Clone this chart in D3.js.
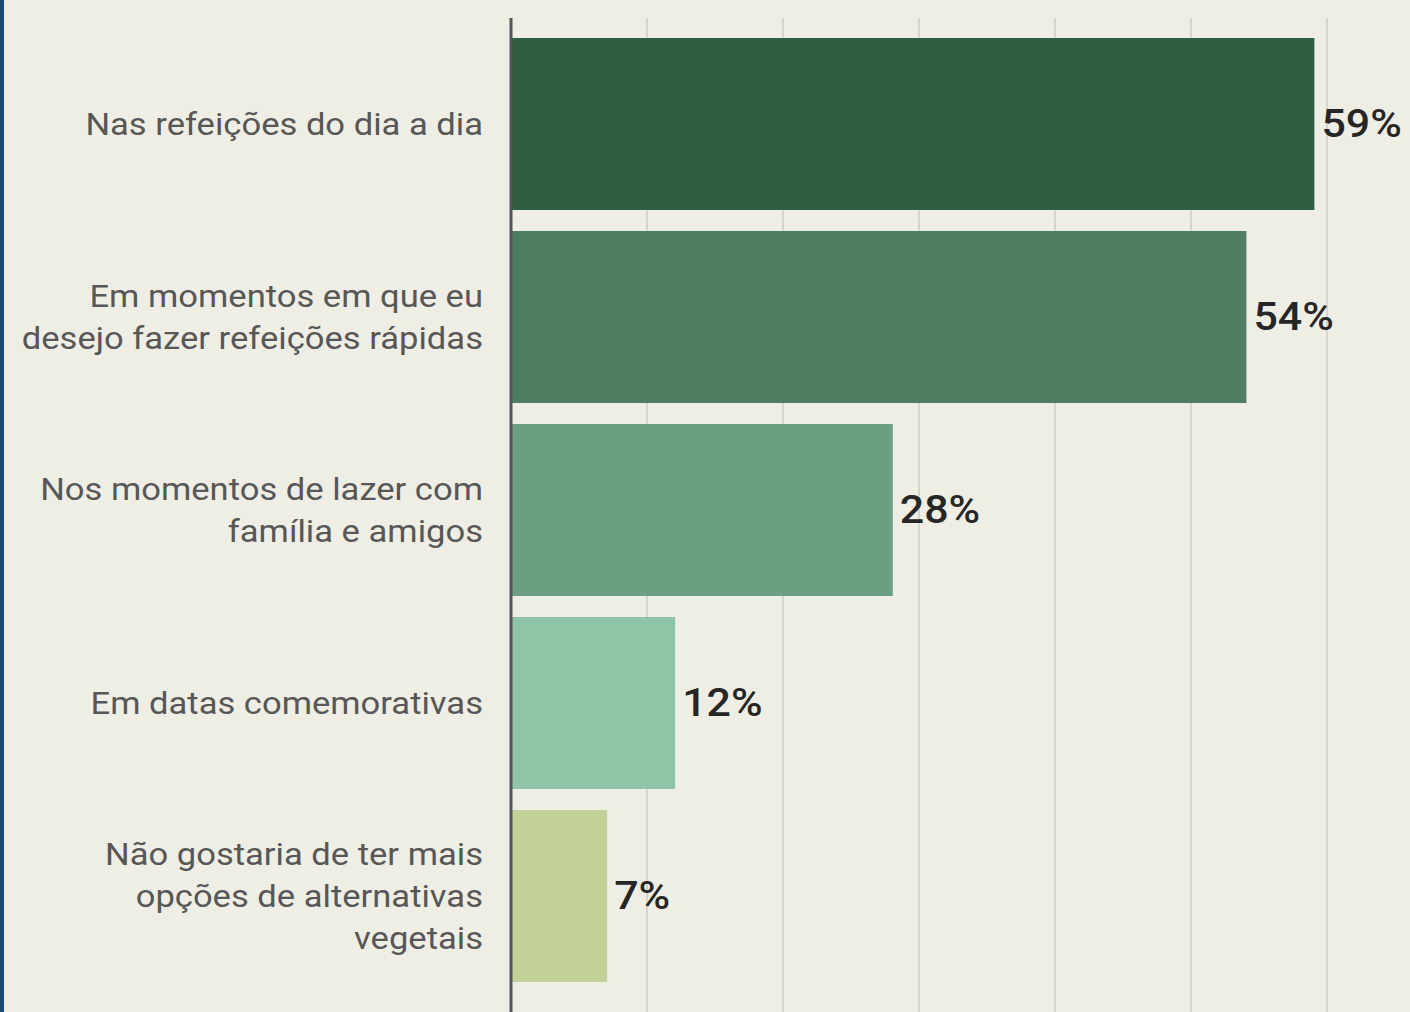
<!DOCTYPE html>
<html>
<head>
<meta charset="utf-8">
<script src="https://cdn.jsdelivr.net/npm/d3@7"></script>
<style>
  html, body { margin: 0; padding: 0; background: #efeee4; }
  svg { display: block; }
</style>
</head>
<body>
<svg id="chart" width="1410" height="1012"></svg>
<script>
const categories = [
  "Nas refeições do dia a dia",
  "Em momentos em que eu\ndesejo fazer refeições rápidas",
  "Nos momentos de lazer com\nfamília e amigos",
  "Em datas comemorativas",
  "Não gostaria de ter mais\nopções de alternativas\nvegetais"
];
const values = [59, 54, 28, 12, 7];
const colors = ["#2f5e40", "#4e7e61", "#6c9f81", "#8fc4a7", "#c1d197"];
const gridTicks = [10, 20, 30, 40, 50, 60];

const svg = d3.select("#chart");
const W = 1410, H = 1012;

svg.append("rect").attr("width", W).attr("height", H).attr("fill", "#efeee4");
svg.append("rect").attr("x", 0).attr("y", 0).attr("width", 4).attr("height", H).attr("fill", "#1c4a70");

const x = d3.scaleLinear().domain([0, 60]).range([512, 1328]);
const y = d3.scaleBand().domain(categories).range([27.5, 992.5]).paddingInner(0.1088).paddingOuter(0.0544);

// gridlines
svg.append("g").selectAll("line").data(gridTicks).join("line")
  .attr("x1", d => x(d) - 1).attr("x2", d => x(d) - 1)
  .attr("y1", 18).attr("y2", H)
  .attr("stroke", "#d6d5cb").attr("stroke-width", 2);

// bars
svg.append("g").selectAll("rect").data(categories).join("rect")
  .attr("x", x(0))
  .attr("y", d => y(d))
  .attr("width", (d, i) => x(values[i]) - x(0))
  .attr("height", y.bandwidth())
  .attr("fill", (d, i) => colors[i]);

// axis line
svg.append("line")
  .attr("x1", 511).attr("x2", 511).attr("y1", 18).attr("y2", H)
  .attr("stroke", "#555555").attr("stroke-width", 3);

// category labels
const lh = 42;
const sxLab = 1.115;
const lab = svg.append("g")
  .attr("font-family", "Roboto, 'Noto Sans', sans-serif")
  .attr("font-size", 31)
  .attr("fill", "#575757")
  .attr("text-anchor", "end");
categories.forEach(c => {
  const lines = c.split("\n");
  const cy = y(c) + y.bandwidth() / 2;
  lines.forEach((ln, j) => {
    const ty = cy + (j - (lines.length - 1) / 2) * lh;
    lab.append("text")
      .attr("transform", `translate(483,${ty}) scale(${sxLab},1)`)
      .attr("dy", "0.35em")
      .text(ln);
  });
});

// value labels
const sxVal = 1.13;
svg.append("g")
  .attr("font-family", "Roboto, 'Noto Sans', sans-serif")
  .attr("font-size", 38)
  .attr("font-weight", 500)
  .attr("fill", "#262626")
  .selectAll("text").data(categories).join("text")
  .attr("transform", (d, i) => `translate(${x(values[i]) + 7},${y(d) + y.bandwidth() / 2}) scale(${sxVal},1)`)
  .attr("dy", "0.35em")
  .text((d, i) => values[i] + "%");
</script>
</body>
</html>
